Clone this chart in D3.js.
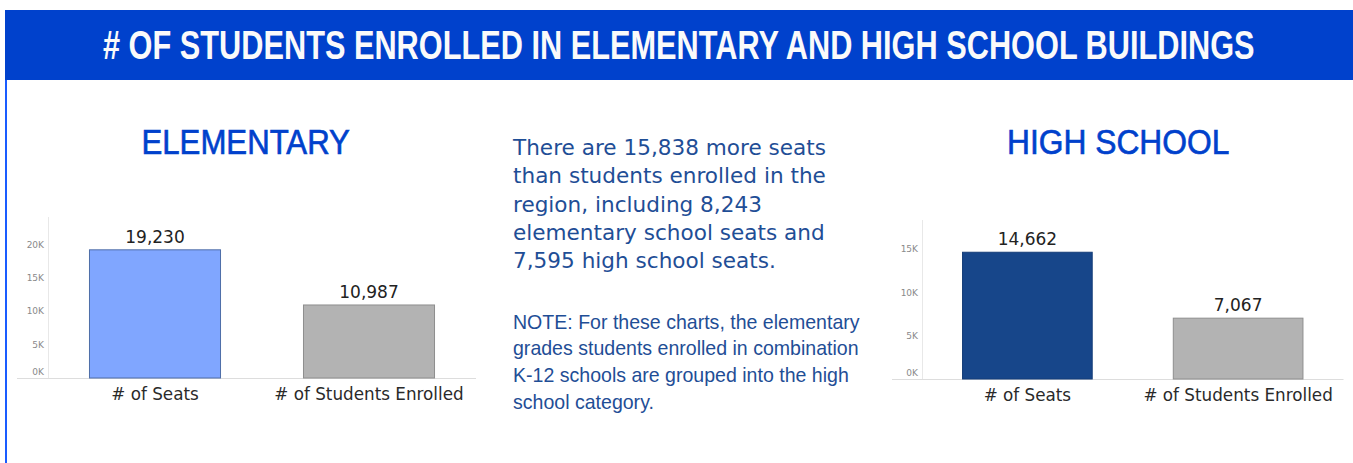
<!DOCTYPE html>
<html>
<head>
<meta charset="utf-8">
<script src="https://cdn.jsdelivr.net/npm/d3@7"></script>
<style>
  html, body { margin: 0; padding: 0; background: #fff; }
  svg { display: block; }
</style>
</head>
<body>
<svg id="chart" width="1353" height="463"></svg>
<script>
// ---------------- DATA ----------------
const titleText = "# OF STUDENTS ENROLLED IN ELEMENTARY AND HIGH SCHOOL BUILDINGS";
const categories = ["# of Seats", "# of Students Enrolled"];
const elementaryTitle = "ELEMENTARY";
const elementaryValues = [19230, 10987];
const elementaryTicks = [0, 5000, 10000, 15000, 20000];
const highSchoolTitle = "HIGH SCHOOL";
const highSchoolValues = [14662, 7067];
const highSchoolTicks = [0, 5000, 10000, 15000];
const summaryLines = [
  "There are 15,838 more seats",
  "than students enrolled in the",
  "region, including 8,243",
  "elementary school seats and",
  "7,595 high school seats."
];
const noteLines = [
  "NOTE: For these charts, the elementary",
  "grades students enrolled in combination",
  "K-12 schools are grouped into the high",
  "school category."
];

// ---------------- HELPERS ----------------
const svg = d3.select("#chart");
const BLUE = "#0041CC";
const NARROW = "'Liberation Sans Narrow', 'Liberation Sans', Arial, sans-serif";
const TAB = "'DejaVu Sans', 'Noto Sans', sans-serif";

// Condense a text horizontally so that its natural width equals targetW,
// keeping the glyph height of baseSize.
function measureScale(sel, targetW, baseSize) {
  sel.style("font-size", baseSize + "px");
  const w = sel.node().getComputedTextLength();
  return targetW / w;
}
function placeScaled(sel, x, y, sx, baseSize) {
  sel.attr("x", 0).attr("y", 0)
    .style("font-size", (baseSize * sx) + "px")
    .attr("transform", `translate(${x},${y}) scale(1,${1 / sx})`);
}

// ---------------- DRAW ----------------
// Banner
svg.append("rect").attr("x", 5).attr("y", 10).attr("width", 1348).attr("height", 70).attr("fill", BLUE);
svg.append("rect").attr("x", 5).attr("y", 80).attr("width", 2).attr("height", 383).attr("fill", "#1A5CFF");
const title = svg.append("text")
  .style("font-family", NARROW).style("font-weight", "bold")
  .attr("fill", "#FAFAFA").text(titleText);
{
  const sx = measureScale(title, 1152, 40.5);
  placeScaled(title, 103, 58.5, sx, 40.5);
}

function drawChart(opts) {
  const g = svg.append("g");
  // heading
  const head = g.append("text")
    .style("font-family", NARROW)
    .attr("fill", BLUE).attr("stroke", BLUE).attr("stroke-width", 0.6)
    .text(opts.title);
  const hs = measureScale(head, opts.headW, 35);
  placeScaled(head, opts.headX, 153.5, hs, 35);

  const x = d3.scaleBand().domain(categories).range([opts.x0, opts.x1]).paddingInner(opts.pad).paddingOuter(opts.pad / 2);
  const y = d3.scaleLinear().domain([0, opts.yMax]).range([opts.base, opts.top]);

  // axis lines
  g.append("line").attr("x1", opts.x0 + 0.5).attr("x2", opts.x0 + 0.5).attr("y1", opts.top).attr("y2", opts.base)
    .attr("stroke", "#E8E8E8").attr("stroke-width", 1);
  g.append("line").attr("x1", opts.lineStart).attr("x2", opts.x1).attr("y1", opts.base + 0.5).attr("y2", opts.base + 0.5)
    .attr("stroke", "#DDDDDD").attr("stroke-width", 1);

  // y axis ticks via d3 axis
  const yAxis = d3.axisLeft(y).tickValues(opts.ticks).tickSize(0).tickPadding(4)
    .tickFormat(d => (d / 1000) + "K");
  const ax = g.append("g").attr("transform", `translate(${opts.x0},0)`).call(yAxis);
  ax.select(".domain").remove();
  ax.selectAll("text")
    .style("font-family", TAB)
    .style("font-size", "9px")
    .attr("fill", "#8A8A8A")
    .attr("dy", d => d === 0 ? "-0.35em" : "0.32em");

  // bars
  g.selectAll("rect.bar").data(opts.values).join("rect")
    .attr("class", "bar")
    .attr("x", (d, i) => x(categories[i]) + 0.5)
    .attr("y", d => y(d) + 0.5)
    .attr("width", x.bandwidth() - 1)
    .attr("height", d => opts.base - y(d) - 0.5)
    .attr("fill", (d, i) => opts.colors[i])
    .attr("stroke", (d, i) => opts.strokes[i])
    .attr("stroke-width", 1);

  // value labels
  g.selectAll("text.val").data(opts.values).join("text")
    .attr("class", "val")
    .attr("x", (d, i) => x(categories[i]) + x.bandwidth() / 2)
    .attr("y", d => y(d) - 6.5)
    .attr("text-anchor", "middle")
    .style("font-family", TAB)
    .style("font-size", "17px")
    .attr("fill", "#222")
    .text(d => d3.format(",")(d));

  // category labels
  g.selectAll("text.cat").data(categories).join("text")
    .attr("class", "cat")
    .attr("x", d => x(d) + x.bandwidth() / 2)
    .attr("y", opts.base + 22)
    .attr("text-anchor", "middle")
    .style("font-family", TAB)
    .style("font-size", "16.8px")
    .attr("fill", "#2A2A2A")
    .text(d => d);
}

drawChart({
  title: elementaryTitle, headX: 141.5, headW: 208.5,
  values: elementaryValues, ticks: elementaryTicks,
  x0: 48, x1: 476, lineStart: 17, pad: 0.383,
  base: 378, top: 217, yMax: 24060,
  colors: ["#80A6FF", "#B3B3B3"], strokes: ["#4E6DA8", "#8E8E8E"]
});
drawChart({
  title: highSchoolTitle, headX: 1007, headW: 222.5,
  values: highSchoolValues, ticks: highSchoolTicks,
  x0: 922, x1: 1343.5, lineStart: 892, pad: 0.38,
  base: 379, top: 220, yMax: 18320,
  colors: ["#17468A", "#B3B3B3"], strokes: ["#143D78", "#8E8E8E"]
});

// middle text
const TXT = "#1F4E96";
const sumSel = svg.append("g").selectAll("text").data(summaryLines).join("text")
  .style("font-family", TAB)
  .attr("fill", TXT)
  .text(d => d);
{
  const sx = measureScale(d3.select(sumSel.nodes()[0]), 313.3, 21.5);
  sumSel.each(function (d, i) { placeScaled(d3.select(this), 513, 155 + i * 28.3, sx, 21.5); });
}
const noteSel = svg.append("g").selectAll("text").data(noteLines).join("text")
  .style("font-family", NARROW)
  .attr("fill", TXT)
  .text(d => d);
{
  const sx = measureScale(d3.select(noteSel.nodes()[0]), 346.7, 21);
  noteSel.each(function (d, i) { placeScaled(d3.select(this), 513, 328.5 + i * 26.7, sx, 21); });
}
</script>
</body>
</html>
